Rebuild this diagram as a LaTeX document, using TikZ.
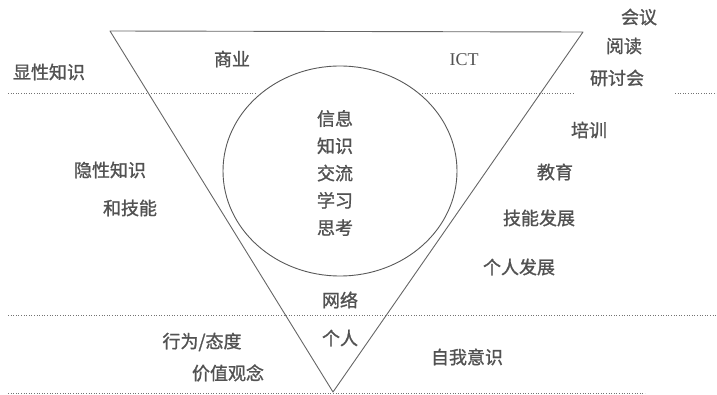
\documentclass[tikz,border=0pt]{standalone}
\usepackage{fontspec}
\newfontfamily\cjk[FakeBold=1.2]{Noto Sans CJK SC}
\newfontfamily\lat{Liberation Serif}
\usetikzlibrary{shapes.geometric}
\tikzset{
  lbl/.style={font=\cjk\fontsize{18}{20}\selectfont, text=black!68, inner sep=0pt},
  sep/.style={draw=black!55, dotted, line width=0.6pt},
  edge/.style={draw=black!60, line width=0.9pt},
}
\begin{document}
\begin{tikzpicture}[x=1pt,y=-1pt]
\useasboundingbox (0,0) rectangle (717,395);
% triangle
\coordinate (tl) at (110,31);
\coordinate (tr) at (583,32);
\coordinate (ap) at (333,392);
\draw[edge, line join=round] (tl) -- (tr) -- (ap) -- cycle;
% ellipse
\node[ellipse, draw=black!65, line width=0.9pt, minimum width=234pt, minimum height=210pt, inner sep=0pt] (circ) at (340,171) {};
% separator lines
\coordinate (a1) at (8,93); \coordinate (a2) at (257,93);
\coordinate (a3) at (422,93); \coordinate (a4) at (575,93);
\coordinate (a5) at (675,93); \coordinate (a6) at (717,93);
\draw[sep] (a1) -- (a2);
\draw[sep] (a3) -- (a4);
\draw[sep] (a5) -- (a6);
\coordinate (b1) at (8,315); \coordinate (b2) at (717,315);
\draw[sep] (b1) -- (b2);
\coordinate (c1) at (8,393); \coordinate (c2) at (645,393);
\draw[sep] (c1) -- (c2);
% labels
\node[lbl] (xx) at (49,72) {显性知识};
\node[lbl] (sy) at (232,59) {商业};
\node[lbl, font=\lat\fontsize{18}{20}\selectfont] (ict) at (464,60) {ICT};
\node[lbl] (hy) at (639,17) {会议};
\node[lbl] (yd) at (624,46) {阅读};
\node[lbl] (ytk) at (617,78) {研讨会};
\node[lbl, align=center, font=\cjk\fontsize{18}{27.3}\selectfont] (inner) at (335,173) {信息\\知识\\交流\\学习\\思考};
\node[lbl] (yx) at (110,170) {隐性知识};
\node[lbl] (hjn) at (130,208) {和技能};
\node[lbl] (px) at (589,130) {培训};
\node[lbl] (jy) at (555,172) {教育};
\node[lbl] (jnfz) at (539,218) {技能发展};
\node[lbl] (grfz) at (519,267) {个人发展};
\node[lbl] (wl) at (340,300) {网络};
\node[lbl] (gr) at (340,338) {个人};
\node[lbl] (xw) at (202,342) {行为/态度};
\node[lbl] (jz) at (228,373) {价值观念};
\node[lbl] (zw) at (467,357) {自我意识};
\end{tikzpicture}
\end{document}
